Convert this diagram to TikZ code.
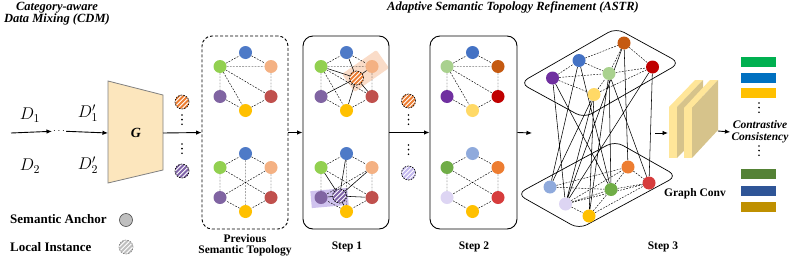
\RequirePackage{fix-cm}
\documentclass[tikz,border=0pt]{standalone}
\usepackage{fontspec}
\setmainfont{Liberation Serif}
\usetikzlibrary{arrows.meta}
\definecolor{pB}{HTML}{4E7AC7}
\definecolor{pG}{HTML}{92D050}
\definecolor{pP}{HTML}{F4B183}
\definecolor{pU}{HTML}{8064A2}
\definecolor{pR}{HTML}{C0504D}
\definecolor{pY}{HTML}{FFC000}
\definecolor{tB}{HTML}{4472C4}
\definecolor{tG}{HTML}{A9D18E}
\definecolor{tP}{HTML}{C55A11}
\definecolor{tU}{HTML}{7030A0}
\definecolor{tR}{HTML}{C00000}
\definecolor{tY}{HTML}{FFD966}
\definecolor{bB}{HTML}{8FAADC}
\definecolor{bG}{HTML}{70AD47}
\definecolor{bP}{HTML}{ED7D31}
\definecolor{bU}{HTML}{DDD5F3}
\definecolor{bR}{HTML}{D63C3C}
\definecolor{bY}{HTML}{FFC000}
\definecolor{hlO}{HTML}{FADCC8}
\definecolor{hlU}{HTML}{CFC2EE}
\definecolor{gfill}{HTML}{FCE6BD}
\definecolor{slabF}{HTML}{FFE699}
\definecolor{slabS}{HTML}{D6C38B}
\definecolor{hatchO}{HTML}{ED7D31}
\definecolor{hatchU}{HTML}{7F63A8}
\definecolor{hatchL}{HTML}{C3B8EE}
\definecolor{legG}{HTML}{BFBFBF}
\definecolor{barA}{HTML}{00B050}
\definecolor{barB}{HTML}{0070C0}
\definecolor{barC}{HTML}{FFC000}
\definecolor{barD}{HTML}{548235}
\definecolor{barE}{HTML}{2F5597}
\definecolor{barF}{HTML}{BF9000}
\pgfdeclarelayer{bgA}
\pgfdeclarelayer{bgB}
\pgfsetlayers{bgA,bgB,main}
\newcommand\hexg[9]{%
  \begin{scope}[shift={(#2,#3)}]
    \node[anc,fill=#4] (#1b) at (0,-29) {};
    \node[anc,fill=#5] (#1g) at (-25.5,-15) {};
    \node[anc,fill=#6] (#1p) at (25.5,-15) {};
    \node[anc,fill=#7] (#1u) at (-25.5,15) {};
    \node[anc,fill=#8] (#1r) at (25.5,15) {};
    \node[anc,fill=#9] (#1y) at (0,29) {};
  \end{scope}}
\newcommand\topE[1]{\draw[dl] (#1g)--(#1b) (#1b)--(#1p) (#1g)--(#1p) (#1g)--(#1u) (#1g)--(#1r) (#1g)--(#1y) (#1u)--(#1y) (#1y)--(#1r) (#1p)--(#1r);}
\newcommand\hexE[1]{\draw[dl] (#1g)--(#1b) (#1b)--(#1p) (#1p)--(#1r) (#1r)--(#1y) (#1y)--(#1u) (#1u)--(#1g) (#1b)--(#1y) (#1g)--(#1r) (#1p)--(#1u);}
\newcommand\mydots[2]{\fill (#1,#2) circle (0.9) (#1,#2+4.6) circle (0.9) (#1,#2+9.2) circle (0.9);}
\begin{document}
\begin{tikzpicture}[x=1pt,y=-1pt,
  anc/.style={circle,minimum size=13pt,inner sep=0pt},
  inst/.style={circle,minimum size=14pt,inner sep=0pt,draw=black,dash pattern=on 1.6pt off 1.1pt,line width=0.6pt,fill=white,
    path picture={\foreach \k in {-13.5,-9,...,13.5}{\draw[#1,line width=1.9pt,solid] ([shift={(\k-10,10)}]path picture bounding box.center) -- ([shift={(\k+10,-10)}]path picture bounding box.center);}}},
  dl/.style={line width=0.45pt,dash pattern=on 1.8pt off 1.3pt},
  sl/.style={line width=0.55pt},
  arr/.style={-{Latex[length=5.5pt,width=4.5pt]},line width=0.9pt},
  ttl/.style={font=\fontsize{12.5}{14}\selectfont\bfseries\itshape,align=center},
  lbl/.style={font=\fontsize{11.5}{13}\selectfont\bfseries,align=center},
  leg/.style={font=\fontsize{13}{15}\selectfont\bfseries,anchor=west,inner sep=0pt},
  mth/.style={font=\fontsize{17}{19}\selectfont},
  box/.style={rounded corners=10pt,minimum width=86pt,minimum height=193pt,inner sep=0pt,line width=0.9pt}]
\useasboundingbox (0,0) rectangle (789,260);

% titles
\node[ttl] (tcdm) at (57,14) {Category-aware\\[-2pt]Data Mixing (CDM)};
\node[ttl] (tastr) at (513,7) {Adaptive Semantic Topology Refinement (ASTR)};

% left input
\node[mth] (d1) at (30,115) {$D_1$};
\node[mth] (d2) at (30,166) {$D_2$};
\node[mth] (d1p) at (88,113) {$D_1'$};
\node[mth] (d2p) at (88,165) {$D_2'$};
\coordinate (in0) at (11,133);
\node[inner sep=1pt] (ldots) at (59,131) {$\cdots$};
\draw[fill=gfill,draw=gray,line width=0.8pt] (108,81) -- (163,95) -- (163,170) -- (108,183) -- cycle;
\coordinate (Gl) at (108,133);
\coordinate (Gr) at (163,133);
\node[font=\fontsize{14}{16}\selectfont\bfseries\itshape] (gtxt) at (136,133) {G};
\draw[arr] (in0) -- (ldots);
\draw[arr] (ldots) -- (Gl);

\node[inst=hatchO] (hA) at (182,102) {};
\node[inst=hatchU] (hB) at (182,171) {};
\mydots{182}{115}
\mydots{182}{144}

% boxes
\node[box,draw,dash pattern=on 3pt off 2pt] (prevbox) at (245,132.5) {};
\node[box,draw] (s1box) at (346,132.5) {};
\node[box,draw,minimum width=87pt] (s2box) at (473.5,132.5) {};
\draw[arr] (Gr) -- (prevbox.west);
\draw[arr] (prevbox.east) -- (s1box.west);
\draw[arr] (s1box.east) -- (s2box.west);

% previous topology
\hexg{pa}{245.5}{81.5}{pB}{pG}{pP}{pU}{pR}{pY}
\hexg{pb}{245.5}{182.5}{pB}{pG}{pP}{pU}{pR}{pY}
\begin{pgfonlayer}{bgB}
\topE{pa}
\hexE{pb}
\end{pgfonlayer}

% step 1
\begin{pgfonlayer}{bgA}
\node[fill=hlO,rotate=35,minimum width=42pt,minimum height=22pt,rounded corners=2pt,inner sep=0pt] (hlA) at (365.5,71) {};
\node[fill=hlU,rotate=5,minimum width=37pt,minimum height=17pt,inner sep=0pt] (hlB) at (329.5,198) {};
\end{pgfonlayer}
\hexg{sa}{346.5}{81.5}{pB}{pG}{pP}{pU}{pR}{pY}
\hexg{sb}{346.5}{182.5}{pB}{pG}{pP}{pU}{pR}{pY}
\node[inst=hatchO] (s1i) at (356.5,78) {};
\node[inst=hatchU] (s1j) at (339.5,196) {};
\begin{pgfonlayer}{bgB}
\topE{sa}
\hexE{sb}
\draw[sl] (s1i)--(sab) (s1i)--(sag) (s1i)--(sap) (s1i)--(sau) (s1i)--(sar) (s1i)--(say);
\draw[sl] (s1j)--(sbb) (s1j)--(sbg) (s1j)--(sbp) (s1j)--(sbu) (s1j)--(sbr) (s1j)--(sby);
\end{pgfonlayer}

\node[inst=hatchO] (hC) at (408.5,101) {};
\node[inst=hatchL] (hD) at (408.5,173) {};
\mydots{408.5}{115}
\mydots{408.5}{145}

% step 2
\hexg{ta}{472.5}{81.5}{tB}{tG}{tP}{tU}{tR}{tY}
\hexg{tb}{472.5}{182.5}{bB}{bG}{bP}{bU}{bR}{bY}
\begin{pgfonlayer}{bgB}
\topE{ta}
\draw[dl] (tbg)--(tbb) (tbb)--(tbp) (tbg)--(tbu) (tbp)--(tbr) (tbu)--(tby) (tby)--(tbr) (tbg)--(tbr) (tbp)--(tbu);
\end{pgfonlayer}
\coordinate (s3in) at (532,133);
\draw[arr] (s2box.east) -- (s3in);

% step 3
\begin{pgfonlayer}{bgA}
\draw[line width=0.7pt,rounded corners=9pt] (520,83) -- (616,28) -- (680,63) -- (584,118) -- cycle;
\draw[line width=0.7pt,rounded corners=9pt] (517,194) -- (615,141) -- (677,176) -- (579,229) -- cycle;
\end{pgfonlayer}
\node[anc,fill=tU] (ua) at (552.5,78) {};
\node[anc,fill=tB] (ub) at (579,60.5) {};
\node[anc,fill=tP] (uc) at (624,43) {};
\node[anc,fill=tG] (ud) at (609,73.5) {};
\node[anc,fill=tR] (ue) at (652.5,67) {};
\node[anc,fill=tY] (uf) at (594,94.5) {};
\node[anc,fill=bB] (vg) at (550,187) {};
\node[anc,fill=bU] (vh) at (565.5,204) {};
\node[anc,fill=bY] (vi) at (589,216) {};
\node[anc,fill=bG] (vj) at (611,189.5) {};
\node[anc,fill=bP] (vk) at (628,167) {};
\node[anc,fill=bR] (vl) at (649,183) {};
\begin{pgfonlayer}{bgB}
\draw[dl] (ua)--(ub) (ub)--(uc) (uc)--(ud) (uc)--(ue) (ub)--(ud) (ua)--(ud) (ud)--(ue) (ua)--(uf) (uf)--(ud) (uf)--(ue);
\draw[dl] (vg)--(vk) (vg)--(vj) (vh)--(vk) (vh)--(vj) (vh)--(vl) (vh)--(vi) (vi)--(vj) (vi)--(vl) (vj)--(vl) (vk)--(vl) (vj)--(vk);
\draw[sl] (ua)--(vj) (ua)--(vh) (ub)--(vg) (ub)--(vj) (uf)--(vh) (uf)--(vi) (uf)--(vg) (ud)--(vj) (ud)--(vl) (ud)--(vi) (uc)--(vk) (uc)--(vh) (ue)--(vh) (ue)--(vl);
\end{pgfonlayer}

% graph conv
\coordinate (s3out) at (655,133);
\coordinate (slabin) at (668,133);
\draw[arr] (s3out) -- (slabin);
\draw[fill=slabF,draw=none] (669,107) -- (677,107) -- (677,158) -- (669,158) -- cycle;
\draw[fill=slabF,draw=none] (669,107) -- (695,80) -- (703,80) -- (677,107) -- cycle;
\draw[fill=slabS,draw=none] (677,107) -- (703,80) -- (703,131) -- (677,158) -- cycle;
\draw[fill=slabF,draw=none] (684,108) -- (692,108) -- (692,158) -- (684,158) -- cycle;
\draw[fill=slabF,draw=none] (684,108) -- (710,80) -- (718,80) -- (692,108) -- cycle;
\draw[fill=slabS,draw=none] (692,108) -- (718,80) -- (718,130) -- (692,158) -- cycle;
\coordinate (slabout) at (718,131);
\node[lbl] (gconv) at (695,194) {Graph Conv};

% contrastive
\node[ttl,font=\fontsize{11.5}{13}\selectfont\bfseries\itshape,inner sep=1pt] (cc) at (760,132) {Contrastive\\[-1pt]Consistency};
\draw[arr] (slabout) -- (cc.west);
\fill[barA] (741,56.7) rectangle (776,66.7);
\fill[barB] (741,72.7) rectangle (776,82.7);
\fill[barC] (741,88.3) rectangle (776,98.3);
\mydots{759}{103}
\mydots{759}{146}
\fill[barD] (741,169) rectangle (776,179);
\fill[barE] (741,185.7) rectangle (776,195.7);
\fill[barF] (741,201.7) rectangle (776,211.7);

% labels
\node[lbl] (lprev) at (245,245) {Previous\\[-2pt]Semantic Topology};
\node[lbl] (ls1) at (347,247) {Step 1};
\node[lbl] (ls2) at (474,247) {Step 2};
\node[lbl] (ls3) at (663,247) {Step 3};

% legend
\node[leg] (lgA) at (10,219) {Semantic Anchor};
\node[anc,fill=legG,draw=black!70,line width=0.6pt] (lgAc) at (126,220) {};
\node[leg] (lgB) at (10,247) {Local Instance};
\node[inst=legG,draw=gray] (lgBc) at (126,247) {};
\end{tikzpicture}
\end{document}
